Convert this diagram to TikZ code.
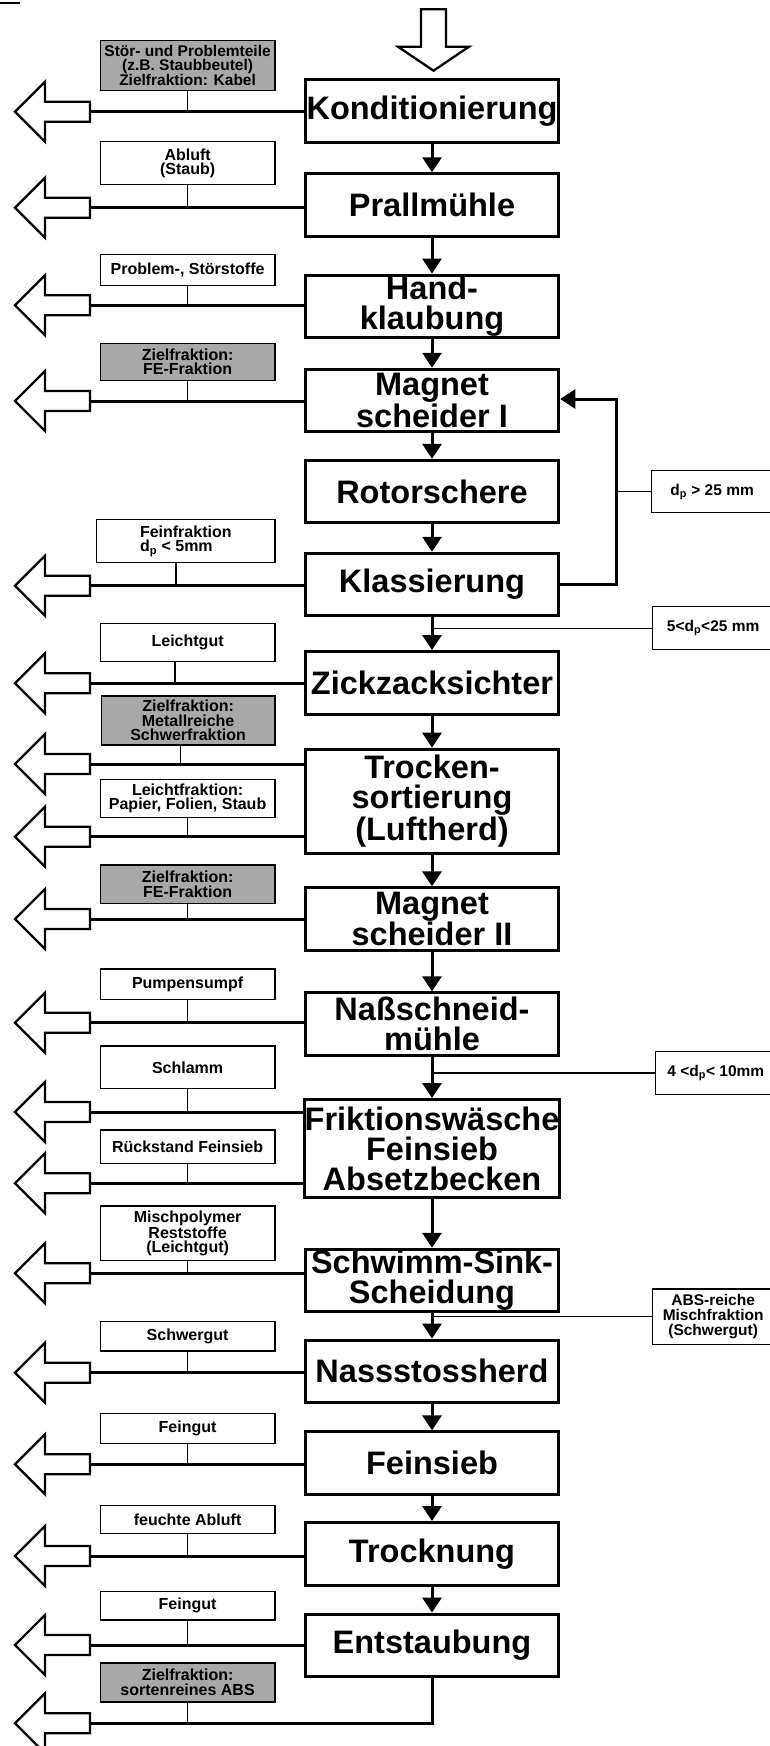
\documentclass[tikz,border=0pt]{standalone}
\usepackage{fontspec}
\setmainfont{Liberation Sans}
\usetikzlibrary{arrows.meta}
\definecolor{zielgrau}{HTML}{A8A8A8}
\begin{document}
\begin{tikzpicture}[x=1pt,y=-1pt,
    stufe/.style={draw, line width=3pt, minimum width=253.5pt, minimum height=62.5pt,
      inner sep=0pt, align=center, font=\fontsize{32.5}{30}\selectfont\bfseries},
    rest/.style={draw, line width=1.3pt, minimum width=174.7pt, inner sep=0pt,
      align=center, font=\fontsize{16}{14.5}\selectfont\bfseries},
    ziel/.style={rest, fill=zielgrau},
    korn/.style={draw, line width=1.3pt, anchor=west, minimum width=121pt, inner sep=0pt,
      align=center, font=\fontsize{15.5}{15}\selectfont\bfseries},
    fluss/.style={line width=3pt, -{Triangle[length=15pt,width=19pt]}},
    abzug/.style={line width=3pt},
    duenn/.style={line width=1.3pt},
    austrag/.style={line width=2.3pt, fill=white, line join=miter}]
  \clip (0,0) rectangle (770,1746);
  \draw[line width=2pt] (0,3.3) -- (20,3.3);
  % Zulauf
  \draw[austrag] (421,9.3) -- (446,9.3) -- (446,46.7) -- (469,46.7)
    -- (433.5,70.7) -- (398,46.7) -- (421,46.7) -- cycle;
  % Verfahrensstufen
  \node[stufe] (p1) at (432,111.2) {Konditionierung};
  \node[stufe] (p2) at (432,205) {Prallmühle};
  \node[stufe] (p3) at (432,306.3) {Hand-\\klaubung};
  \node[stufe] (p4) at (432,400.5) {Magnet\\scheider I};
  \node[stufe] (p5) at (432,491.5) {Rotorschere};
  \node[stufe] (p6) at (432,584.5) {Klassierung};
  \node[stufe] (p7) at (432,682.8) {Zickzacksichter};
  \node[stufe, minimum height=104.3pt] (p8) at (432,801.3) {Trocken-\\sortierung\\(Luftherd)};
  \node[stufe] (p9) at (432,919.2) {Magnet\\scheider II};
  \node[stufe] (p10) at (432,1024) {Naßschneid-\\mühle};
  \node[stufe, minimum height=98.3pt] (p11) at (432,1148.7) {Friktionswäsche\\Feinsieb\\Absetzbecken};
  \node[stufe] (p12) at (432,1280.5) {Schwimm-Sink-\\Scheidung};
  \node[stufe] (p13) at (432,1371.3) {Nassstossherd};
  \node[stufe] (p14) at (432,1463.2) {Feinsieb};
  \node[stufe] (p15) at (432,1553.8) {Trocknung};
  \node[stufe] (p16) at (432,1645.3) {Entstaubung};
  % Austraege
  \node[ziel, minimum height=50.3pt, font=\fontsize{15.5}{14.3}\selectfont\bfseries] (r1) at (187.6,65.5) {Stör- und Problemteile\\(z.B. Staubbeutel)\\Zielfraktion: Kabel};
  \node[rest, minimum height=43pt] (r2) at (187.6,163.2) {Abluft\\(Staub)};
  \node[rest, minimum height=31pt] (r3) at (187.6,269.8) {Problem-, Störstoffe};
  \node[ziel, minimum height=37pt] (r4) at (187.6,361.8) {Zielfraktion:\\FE-Fraktion};
  \node[rest, minimum height=43pt, minimum width=178.2pt, align=left] (r5) at (185.8,541.2) {Feinfraktion\\d\textsubscript{p} < 5mm};
  \node[rest, minimum height=38pt] (r6) at (187.6,642.3) {Leichtgut};
  \node[ziel, minimum height=49.1pt, minimum width=173.5pt] (r7) at (188.1,720.5) {Zielfraktion:\\Metallreiche\\Schwerfraktion};
  \node[rest, minimum height=38.3pt] (r8) at (187.6,798.5) {Leichtfraktion:\\Papier, Folien, Staub};
  \node[ziel, minimum height=38.4pt] (r9) at (187.6,884.2) {Zielfraktion:\\FE-Fraktion};
  \node[rest, minimum height=30.4pt] (r10) at (187.6,984.2) {Pumpensumpf};
  \node[rest, minimum height=42.7pt] (r11) at (187.6,1067.3) {Schlamm};
  \node[rest, minimum height=33.4pt] (r12) at (187.6,1146.7) {Rückstand Feinsieb};
  \node[rest, minimum height=54.4pt] (r13) at (187.6,1233.2) {Mischpolymer\\Reststoffe\\(Leichtgut)};
  \node[rest, minimum height=29.7pt] (r14) at (187.6,1336.2) {Schwergut};
  \node[rest, minimum height=30pt] (r15) at (187.6,1428.3) {Feingut};
  \node[rest, minimum height=28pt] (r16) at (187.6,1519.7) {feuchte Abluft};
  \node[rest, minimum height=28.4pt] (r17) at (187.6,1605.8) {Feingut};
  \node[ziel, minimum height=39.1pt] (r18) at (187.6,1682.5) {Zielfraktion:\\sortenreines ABS};
  % Kornklassen
  \node[korn, minimum height=42pt] (g1) at (651,491.7) {d\textsubscript{p} > 25 mm};
  \node[korn, minimum height=43pt] (g2) at (652,628.2) {5<d\textsubscript{p}<25 mm};
  \node[korn, minimum height=43pt] (g3) at (654.7,1072.9) {4 <d\textsubscript{p}< 10mm};
  \node[korn, minimum height=55.4pt] (g4) at (652,1316.7) {ABS-reiche\\Mischfraktion\\(Schwergut)};
  % Abzugspunkte
  \coordinate (o1) at (90,111.7);
  \coordinate (o2) at (90,207.7);
  \coordinate (o3) at (90,305.3);
  \coordinate (o4) at (90,401);
  \coordinate (o5) at (90,585.7);
  \coordinate (o6) at (90,683.3);
  \coordinate (o7) at (90,764);
  \coordinate (o8) at (90,836.7);
  \coordinate (o9) at (90,919);
  \coordinate (o10) at (90,1022.7);
  \coordinate (o11) at (90,1112);
  \coordinate (o12) at (90,1183.3);
  \coordinate (o13) at (90,1273.3);
  \coordinate (o14) at (90,1372.7);
  \coordinate (o15) at (90,1464.3);
  \coordinate (o16) at (90,1556);
  \coordinate (o17) at (90,1645);
  \coordinate (o18) at (90,1723.3);
  \coordinate (rueck) at (616.4,491.7);
  \begin{scope}
    \foreach \a/\b in {p1/p2, p2/p3, p3/p4, p4/p5, p5/p6, p6/p7, p7/p8, p8/p9,
        p9/p10, p10/p11, p11/p12, p12/p13, p13/p14, p14/p15, p15/p16}
      \draw[fluss] (\a) -- (\b);
    \draw[fluss] (p6.east) -| (rueck) |- (p4.east |- 0,399);
    \foreach \p/\o in {p1/o1, p2/o2, p3/o3, p4/o4, p6/o5, p7/o6, p8/o7, p8/o8, p9/o9,
        p10/o10, p11/o11, p11/o12, p12/o13, p13/o14, p14/o15, p15/o16, p16/o17}
      \draw[abzug] (\p.west |- \o) -- (\o);
    \draw[abzug] (p16.south) |- (o18);
    \foreach \i/\dx in {1/0, 2/0, 3/0, 4/0, 5/-9.8, 6/-12.6, 7/-7.4, 8/0, 9/0,
        10/0, 11/0, 12/0, 13/0, 14/0, 15/0, 16/0, 17/0, 18/0}
      \draw[duenn] ([xshift=\dx pt]r\i.south) -- ([xshift=\dx pt]r\i.south |- o\i);
    \foreach \i in {1,...,18}
      \draw[austrag] (o\i) ++(0,-10) -- ++(-45,0) -- ++(0,-20) -- ++(-30,30)
        -- ++(30,30) -- ++(0,-20) -- ++(45,0) -- cycle;
    \draw[duenn] (rueck) -- (g1.west);
    \draw[duenn] (p6.south |- g2.west) -- (g2.west);
    \draw[duenn] (p10.south |- g3.west) -- (g3.west);
    \draw[duenn] (p12.south |- g4.west) -- (g4.west);
  \end{scope}
\end{tikzpicture}
\end{document}
